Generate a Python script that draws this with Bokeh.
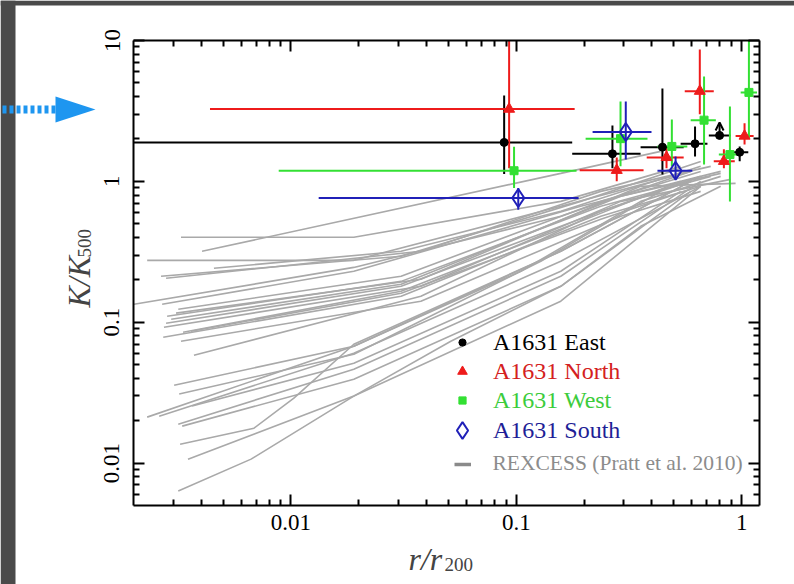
import math
from bokeh.plotting import figure
from bokeh.models import (FixedTicker, LogAxis, CustomJSTickFormatter, Legend, LegendItem,
                          Label, Arrow, OpenHead, PolyAnnotation)
from bokeh.embed import file_html
from bokeh.resources import INLINE

# ---------------- data ----------------
x_ticks = [0.01, 0.1, 1]
x_tick_labels = ["0.01", "0.1", "1"]
y_ticks = [0.01, 0.1, 1, 10]
y_tick_labels = ["0.01", "0.1", "1", "10"]
x_box = (0.002, 1.2)      # plotted r/r200 interval (axis box)
y_box = (0.005, 10)       # plotted K/K500 interval (axis box)

east_r = [0.0883, 0.267, 0.445, 0.621, 0.798, 0.98]
east_r_lo = [0.002, 0.177, 0.356, 0.536, 0.715, 0.91]
east_r_hi = [0.177, 0.356, 0.553, 0.705, 0.893, 1.07]
east_k = [1.89, 1.57, 1.75, 1.85, 2.12, 1.61]
east_k_lo = [1.13, 1.24, 1.12, 1.50, 2.12, 1.39]
east_k_hi = [4.07, 2.49, 4.57, 2.45, 2.12, 1.77]
east_limit_r = [0.798]
east_limit_k = [2.12]
east_limit_tip = [2.62]

north_r = [0.0929, 0.279, 0.464, 0.652, 0.834, 1.03]
north_r_lo = [0.00437, 0.191, 0.379, 0.559, 0.752, 0.94]
north_r_hi = [0.1815, 0.367, 0.553, 0.752, 0.932, 1.13]
north_k = [3.26, 1.20, 1.48, 4.37, 1.39, 2.10]
north_k_lo = [1.24, 1.0, 1.24, 2.99, 1.24, 1.83]
north_k_hi = [10, 1.48, 1.72, 8.63, 1.69, 2.59]

west_r = [0.0977, 0.290, 0.490, 0.681, 0.887, 1.077]
west_r_lo = [0.00882, 0.203, 0.423, 0.594, 0.792, 0.99]
west_r_hi = [0.185, 0.382, 0.574, 0.768, 0.971, 1.17]
west_k = [1.19, 2.01, 1.77, 2.72, 1.55, 4.28]
west_k_lo = [0.896, 1.28, 1.28, 1.32, 0.721, 2.02]
west_k_hi = [1.76, 3.69, 2.75, 5.55, 3.40, 10]

south_r = [0.102, 0.306, 0.509]
south_r_lo = [0.01327, 0.218, 0.423]
south_r_hi = [0.189, 0.398, 0.604]
south_k = [0.762, 2.24, 1.19]
south_k_lo = [0.630, 1.43, 1.05]
south_k_hi = [0.896, 3.69, 1.50]

rex_r = [
    [0.00325, 0.0190, 0.1575, 0.536],
    [0.00403, 0.1575, 0.437],
    [0.0023, 0.0190, 0.1575, 0.594],
    [0.00455, 0.0308, 0.1575, 0.658],
    [0.00265, 0.0308, 0.193, 0.658],
    [0.00279, 0.0377, 0.237, 0.729],
    [0.00201, 0.0190, 0.1575, 0.594],
    [0.00268, 0.0190, 0.193, 0.807],
    [0.00316, 0.0308, 0.237, 0.658],
    [0.00282, 0.0308, 0.237, 0.729],
    [0.00279, 0.0308, 0.237, 0.594],
    [0.00273, 0.0377, 0.291, 0.894],
    [0.00271, 0.0308, 0.237, 0.658],
    [0.00332, 0.0308, 0.193, 0.536],
    [0.00371, 0.0377, 0.237, 0.658],
    [0.00303, 0.0190, 0.1047, 0.3565, 0.807],
    [0.00319, 0.0190, 0.1284, 0.437],
    [0.0023, 0.0190, 0.1575, 0.594],
    [0.0026, 0.0190, 0.1575, 0.658],
    [0.00364, 0.0190, 0.1575, 0.536],
    [0.00316, 0.0190, 0.1575, 0.658],
    [0.00329, 0.0190, 0.1575, 0.594],
    [0.00322, 0.00685, 0.0103, 0.0190, 0.1575, 0.594],
    [0.00349, 0.0190, 0.1575, 0.658],
    [0.00316, 0.00665, 0.0190, 0.0512, 0.1575, 0.3565, 0.807],
    [0.00294, 0.0308, 0.291, 0.807],
    [0.00309, 0.0377, 0.3565, 0.94],
    [0.00325, 0.0377, 0.291, 0.658],
    [0.0036, 0.0308, 0.237, 0.594],
]
rex_k = [
    [0.401, 0.401, 0.721, 1.278],
    [0.319, 1.139, 1.633],
    [0.275, 0.275, 0.665, 1.177],
    [0.2415, 0.319, 0.613, 1.278],
    [0.212, 0.294, 0.721, 1.386],
    [0.205, 0.319, 0.849, 1.278],
    [0.134, 0.245, 0.565, 1.177],
    [0.134, 0.230, 0.665, 1.177],
    [0.1237, 0.212, 0.721, 1.177],
    [0.1103, 0.195, 0.665, 1.085],
    [0.0984, 0.180, 0.613, 1.0],
    [0.0921, 0.180, 0.721, 1.033],
    [0.0782, 0.153, 0.565, 0.922],
    [0.0849, 0.166, 0.520, 1.0],
    [0.0583, 0.153, 0.613, 1.085],
    [0.0357, 0.0676, 0.230, 0.721, 1.085],
    [0.0309, 0.0593, 0.271, 0.849],
    [0.0212, 0.0676, 0.319, 1.0],
    [0.0215, 0.0603, 0.271, 0.922],
    [0.0254, 0.0512, 0.230, 0.849],
    [0.0189, 0.0464, 0.212, 1.0],
    [0.0183, 0.0394, 0.180, 0.849],
    [0.0136, 0.0177, 0.0289, 0.0698, 0.319, 1.0],
    [0.01067, 0.0299, 0.141, 0.922],
    [0.00633, 0.01067, 0.0299, 0.0733, 0.180, 0.480, 0.922],
    [0.105, 0.186, 0.783, 1.139],
    [0.116, 0.202, 0.922, 0.968],
    [0.0733, 0.141, 0.565, 0.849],
    [0.0863, 0.1606, 0.538, 0.878],
]

# ---------------- styles / layout ----------------
FONT = "Liberation Serif"
C_EAST = "#000000"
C_NORTH = "#ee1b1b"
C_WEST = "#33e033"
C_SOUTH = "#2020b8"
C_GREY = "#a9a9a9"

W, H = 794, 584
BOX_L, BOX_R, BOX_T, BOX_B = 133, 759, 40, 505   # axis box in page pixels


def extend_log(lo, hi, px_lo, px_hi, pad_lo, pad_hi):
    per_px = (math.log10(hi) - math.log10(lo)) / (px_hi - px_lo)
    return 10 ** (math.log10(lo) - pad_lo * per_px), 10 ** (math.log10(hi) + pad_hi * per_px)


# the frame fills the page; the axis box is drawn by axes pinned at fixed locations
xr = extend_log(x_box[0], x_box[1], BOX_L, BOX_R, BOX_L, W - BOX_R)
yr = extend_log(y_box[0], y_box[1], H - BOX_B, H - BOX_T, H - BOX_B, BOX_T)

p = figure(width=W, height=H, x_axis_type="log", y_axis_type="log",
           x_range=xr, y_range=yr,
           output_backend="svg", toolbar_location=None,
           min_border_left=0, min_border_right=0, min_border_top=0, min_border_bottom=0,
           background_fill_color="white", border_fill_color="white",
           outline_line_color=None)
p.grid.visible = False

minor = [m * 10.0 ** e for e in range(-4, 2) for m in range(2, 10)]
x_minor = [v for v in minor if x_box[0] * 1.0001 < v < x_box[1] * 0.9999]
y_minor = [v for v in minor if y_box[0] * 1.0001 < v < y_box[1] * 0.9999]
xt = FixedTicker(ticks=x_ticks, minor_ticks=x_minor)
yt = FixedTicker(ticks=y_ticks, minor_ticks=y_minor)

fmt_js = "const i = tvals.indexOf(tick); return i >= 0 ? tlabels[i] : '';"


def style_axis(ax):
    ax.axis_line_width = 2
    ax.axis_line_color = "black"
    ax.major_tick_in = 11
    ax.major_tick_out = 0
    ax.minor_tick_in = 6
    ax.minor_tick_out = 0
    ax.major_tick_line_width = 2
    ax.minor_tick_line_width = 2
    ax.major_label_text_font = FONT
    ax.major_label_text_font_size = "23px"
    ax.major_label_text_color = "black"


xa = p.xaxis[0]
xa.ticker = xt
xa.formatter = CustomJSTickFormatter(args=dict(tvals=x_ticks, tlabels=x_tick_labels), code=fmt_js)
style_axis(xa)
xa.major_label_standoff = 9
xa.fixed_location = y_box[0]
xa.bounds = x_box

ya = p.yaxis[0]
ya.ticker = yt
ya.formatter = CustomJSTickFormatter(args=dict(tvals=y_ticks, tlabels=y_tick_labels), code=fmt_js)
style_axis(ya)
ya.major_label_orientation = "vertical"
ya.major_label_standoff = 14
ya.fixed_location = x_box[0]
ya.bounds = y_box

for loc, tk, fixed, bnds in (("above", xt, y_box[1], x_box), ("right", yt, x_box[1], y_box)):
    ax = LogAxis(ticker=tk, formatter=CustomJSTickFormatter(code="return '';"))
    style_axis(ax)
    ax.major_label_text_font_size = "1px"
    ax.major_label_standoff = 0
    ax.fixed_location = fixed
    ax.bounds = bnds
    p.add_layout(ax, loc)

# ---------------- screenshot decorations (dark edge + blue pointer) ----------------
p.add_layout(PolyAnnotation(xs=[0, 15, 15, 0], ys=[0, 0, H, H],
                            xs_units="screen", ys_units="screen", level="underlay",
                            fill_color="#4a4a4a", fill_alpha=1, line_alpha=0))
p.add_layout(PolyAnnotation(xs=[0, W, W, 0], ys=[H - 5, H - 5, H, H],
                            xs_units="screen", ys_units="screen", level="underlay",
                            fill_color="#4a4a4a", fill_alpha=1, line_alpha=0))
p.add_layout(Arrow(x_start=2, y_start=H - 109, x_end=55, y_end=H - 109,
                   start_units="screen", end_units="screen", end=None,
                   line_color="#1e96f0", line_width=8, line_dash="4 3"))
p.add_layout(PolyAnnotation(xs=[55, 95, 55], ys=[H - 96, H - 109, H - 122],
                            xs_units="screen", ys_units="screen",
                            fill_color="#1e96f0", fill_alpha=1, line_alpha=0))

# ---------------- REXCESS curves ----------------
rex = p.multi_line(xs=rex_r, ys=rex_k, line_color=C_GREY, line_width=1.6)
rex_leg = p.line(x=rex_r[0][:1], y=rex_k[0][:1], line_color="#8a8a8a", line_width=3.5)

# ---------------- error bars + points ----------------
def series(r, rlo, rhi, k, klo, khi, color):
    p.segment(x0=rlo, y0=k, x1=rhi, y1=k, line_color=color, line_width=2)
    p.segment(x0=r, y0=klo, x1=r, y1=khi, line_color=color, line_width=2)


series(east_r, east_r_lo, east_r_hi, east_k, east_k_lo, east_k_hi, C_EAST)
series(north_r, north_r_lo, north_r_hi, north_k, north_k_lo, north_k_hi, C_NORTH)
series(west_r, west_r_lo, west_r_hi, west_k, west_k_lo, west_k_hi, C_WEST)
series(south_r, south_r_lo, south_r_hi, south_k, south_k_lo, south_k_hi, C_SOUTH)

for i in range(len(east_limit_r)):
    p.add_layout(Arrow(x_start=east_limit_r[i], y_start=east_limit_k[i],
                       x_end=east_limit_r[i], y_end=east_limit_tip[i],
                       line_color=C_EAST, line_width=2,
                       end=OpenHead(size=8, line_width=2, line_color=C_EAST)))

r_east = p.scatter(east_r, east_k, marker="circle", size=8, fill_color=C_EAST, line_color=C_EAST)
r_north = p.scatter(north_r, north_k, marker="triangle", size=11, fill_color=C_NORTH, line_color=C_NORTH)
r_west = p.scatter(west_r, west_k, marker="square", size=8, fill_color=C_WEST, line_color=C_WEST)
r_south = p.scatter(south_r, south_k, marker="diamond", size=18, fill_color=None,
                    line_color=C_SOUTH, line_width=2)

# ---------------- legends (one per entry, own text colour) ----------------
legend_specs = [
    ("A1631 East", r_east, "#000000", "24px", 18, 18, 22, 453, 228.5),
    ("A1631 North", r_north, "#d42020", "24px", 24, 24, 19, 450, 199.5),
    ("A1631 West", r_west, "#3ccc3c", "24px", 18, 18, 22, 453, 170.5),
    ("A1631 South", r_south, "#1e1e96", "24px", 42, 42, 10, 441, 133),
    ("REXCESS (Pratt et al. 2010)", rex_leg, "#8c8c8c", "21.5px", 17, 20, 22, 453.5, 108),
]
for text, rend, col, fs, gw, gh, stand, vx, vy in legend_specs:
    leg = Legend(items=[LegendItem(label=text, renderers=[rend])], location=(vx, vy),
                 padding=0, margin=0, spacing=0, border_line_color=None,
                 background_fill_alpha=0, glyph_width=gw, glyph_height=gh,
                 label_standoff=stand, label_height=20,
                 label_text_font=FONT, label_text_font_size=fs, label_text_color=col)
    p.add_layout(leg)

# ---------------- axis titles ----------------
p.add_layout(Label(x=78, y=H - 307, x_units="screen", y_units="screen", text="K/K",
                   angle=math.pi / 2, text_font=FONT, text_font_style="italic",
                   text_font_size="32px", text_align="left", text_baseline="alphabetic"))
p.add_layout(Label(x=84, y=H - 257, x_units="screen", y_units="screen", text="500",
                   angle=math.pi / 2, text_font=FONT, text_font_size="19px",
                   text_align="left", text_baseline="alphabetic"))
p.add_layout(Label(x=408, y=H - 558, x_units="screen", y_units="screen", text="r/r",
                   text_font=FONT, text_font_style="italic", text_font_size="32px",
                   text_align="left", text_baseline="alphabetic"))
p.add_layout(Label(x=444, y=H - 564, x_units="screen", y_units="screen", text="200",
                   text_font=FONT, text_font_size="19px",
                   text_align="left", text_baseline="alphabetic"))

open("out.html", "w").write(file_html(p, INLINE))
